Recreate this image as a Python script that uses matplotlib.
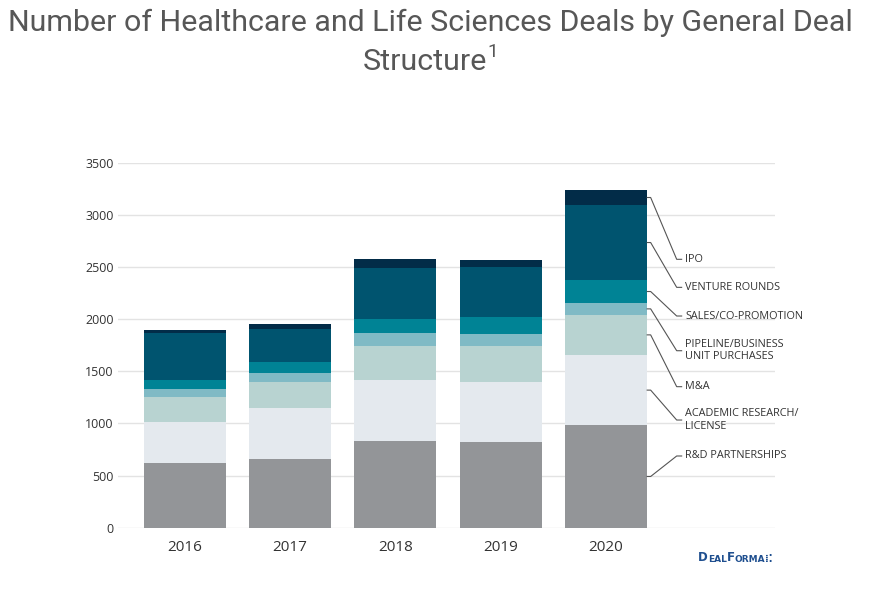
import matplotlib
matplotlib.use("Agg")
import matplotlib.pyplot as plt
import numpy as np

# ---- data ----
years = ["2016", "2017", "2018", "2019", "2020"]
series_names = ["R&D PARTNERSHIPS", "ACADEMIC RESEARCH/\nLICENSE", "M&A",
                "PIPELINE/BUSINESS\nUNIT PURCHASES", "SALES/CO-PROMOTION",
                "VENTURE ROUNDS", "IPO"]
rd_partnerships = [617, 656, 829, 820, 983]
academic_license = [399, 495, 588, 581, 674]
m_and_a = [234, 249, 326, 342, 386]
pipeline_purchases = [80, 87, 122, 116, 113]
sales_copromotion = [87, 100, 134, 160, 220]
venture_rounds = [448, 320, 495, 486, 720]
ipo = [32, 45, 81, 61, 144]
yticks = [0, 500, 1000, 1500, 2000, 2500, 3000, 3500]

series = [rd_partnerships, academic_license, m_and_a, pipeline_purchases,
          sales_copromotion, venture_rounds, ipo]
colors = ["#939598", "#e4e9ee", "#b8d3d1", "#80bac5", "#008395", "#00546f", "#022c48"]
# label vertical positions (layout, in y-axis units)
label_y = [688, 1033, 1353, 1698, 2031, 2306, 2575]

plt.rcParams['font.family'] = ['Open Sans', 'DejaVu Sans']

fig = plt.figure(figsize=(8.82, 5.97), dpi=100)
ax = fig.add_axes([118/882, 1-527.7/597, (775-118)/882, (527.7-162.9)/597])

x = np.arange(len(years))
w = 0.78
bottom = np.zeros(len(years))
for vals, c in zip(series, colors):
    ax.bar(x, vals, width=w, bottom=bottom, color=c, zorder=2, linewidth=0)
    bottom += np.array(vals)

ax.set_ylim(0, 3500)
ax.set_xlim(-0.632, 5.603)
ax.set_yticks(yticks)
ax.set_yticklabels([str(t) for t in yticks])
ax.set_xticks(x)
ax.set_xticklabels(years)
ax.grid(axis='y', color='#e3e3e3', linewidth=1.0, zorder=0)
ax.set_axisbelow(True)
for s in ax.spines.values():
    s.set_visible(False)
ax.tick_params(axis='y', length=0, pad=3, labelsize=9, labelcolor='#333333')
ax.tick_params(axis='x', length=0, pad=9, labelsize=11, labelcolor='#333333')

# leader lines and labels from the last bar
last = len(years) - 1
edge = last + w / 2
cum = 0
for vals, name, ly in zip(series, series_names, label_y):
    v = vals[last]
    mid = cum + v / 2
    cum += v
    ax.plot([edge, edge + 0.033, 4.67, 4.717], [mid, mid, ly, ly],
            color='#555555', lw=0.8, clip_on=False, zorder=3)
    ax.text(4.75, ly, name, va='center', ha='left', fontsize=7.8,
            color='#333333', linespacing=1.15)

# title (font size fitted so the first line spans the same width as the reference)
tfam = ['Roboto', 'DejaVu Sans']
tkw = dict(va='baseline', color='#575757', family=tfam, fontweight='normal')
t_a = fig.text(430/882, 1-31/597, "Number of Healthcare and Life Sciences Deals by General Deal",
               fontsize=24, ha='center', **tkw)
r = fig.canvas.get_renderer()
wpx = t_a.get_window_extent(r).width
fs = 24 * 844 / wpx
t_a.set_fontsize(fs)
t_b = fig.text(425/882, 1-70/597, "Structure", fontsize=fs, ha='center', **tkw)
ax.annotate("1", xy=(1.0, 0.52), xycoords=t_b, ha='left', va='bottom',
            fontsize=fs * 0.62, color='#575757', family=tfam)

# logo
lkw = dict(fontweight='bold', color='#1f4f8f', family=['DejaVu Sans'])
t1 = fig.text(698/882, 1-561/597, "D", fontsize=8.5, va='baseline', **lkw)
ann2 = ax.annotate("EAL", xy=(1, 0), xycoords=t1, va='bottom', ha='left', fontsize=6.5, **lkw)
ann3 = ax.annotate("F", xy=(1, 0), xycoords=ann2, va='bottom', ha='left', fontsize=8.5, **lkw)
ann4 = ax.annotate("ORMA", xy=(1, 0), xycoords=ann3, va='bottom', ha='left', fontsize=6.5, **lkw)
ax.annotate("\u205e\u205a", xy=(1, 0), xycoords=ann4, va='bottom', ha='left', fontsize=7, **lkw)

fig.savefig("out.png", dpi=100)
